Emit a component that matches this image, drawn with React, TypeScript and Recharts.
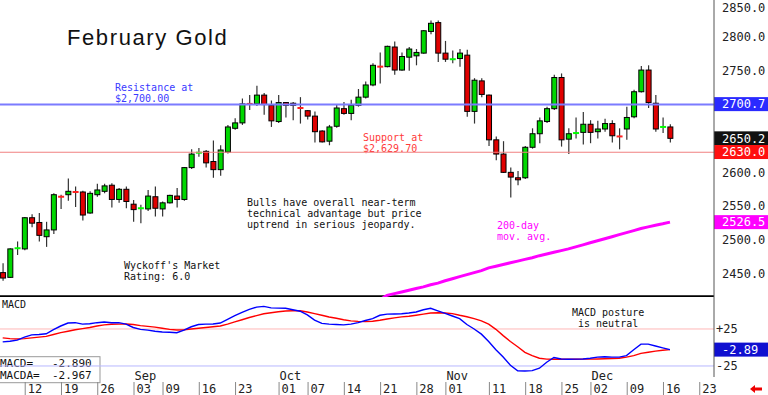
import React from "react";
import {
  Bar,
  ComposedChart,
  Customized,
  Line,
  ReferenceLine,
  XAxis,
  YAxis,
} from "recharts";

// daily candles, Aug 06 .. Dec 16 (trading days)
const open = [
  2452, 2445, 2487, 2487, 2533, 2526, 2505, 2515, 2565, 2567, 2572, 2571, 2540, 2567, 2572, 2581,
  2560, 2575, 2553, 2546, 2546, 2564, 2546, 2555, 2565, 2560, 2607, 2628, 2631, 2616, 2604, 2630,
  2665, 2673, 2702, 2701, 2714, 2699, 2675, 2703, 2702, 2696, 2691, 2683, 2661, 2646, 2668, 2694,
  2687, 2699, 2711, 2729, 2757, 2756, 2785, 2751, 2770, 2772, 2776, 2808, 2821, 2776, 2766, 2768,
  2773, 2690, 2735, 2714, 2648, 2627, 2600, 2592, 2592, 2637, 2657, 2675, 2694, 2740, 2649, 2657,
  2659, 2671, 2660, 2664, 2672, 2654, 2664, 2682, 2719, 2751, 2702, 2666, 2667,
];
const high = [
  2466, 2488, 2498, 2534, 2538, 2540, 2527, 2569, 2567, 2591, 2579, 2573, 2572, 2583, 2583, 2584,
  2577, 2579, 2559, 2552, 2574, 2579, 2557, 2567, 2577, 2608, 2634, 2636, 2633, 2647, 2640, 2670,
  2680, 2709, 2714, 2728, 2717, 2706, 2714, 2704, 2704, 2711, 2692, 2690, 2662, 2670, 2701, 2704,
  2707, 2723, 2734, 2761, 2777, 2787, 2793, 2777, 2785, 2782, 2810, 2824, 2824, 2794, 2780, 2782,
  2781, 2739, 2739, 2715, 2653, 2646, 2607, 2602, 2639, 2665, 2681, 2697, 2744, 2746, 2665, 2681,
  2689, 2677, 2676, 2679, 2677, 2665, 2697, 2722, 2757, 2758, 2714, 2681, 2671,
];
const low = [
  2440, 2444, 2478, 2485, 2519, 2498, 2490, 2509, 2546, 2558, 2549, 2529, 2539, 2564, 2569, 2548,
  2555, 2547, 2527, 2525, 2543, 2535, 2535, 2554, 2548, 2558, 2605, 2623, 2607, 2592, 2595, 2628,
  2663, 2670, 2692, 2698, 2685, 2667, 2673, 2681, 2677, 2672, 2678, 2644, 2644, 2640, 2666, 2685,
  2677, 2697, 2709, 2727, 2731, 2755, 2744, 2750, 2750, 2758, 2775, 2804, 2763, 2763, 2761, 2756,
  2682, 2672, 2711, 2639, 2618, 2599, 2563, 2581, 2590, 2635, 2643, 2673, 2692, 2638, 2627, 2650,
  2641, 2643, 2650, 2660, 2644, 2634, 2648, 2680, 2718, 2695, 2660, 2658, 2644,
];
const close = [
  2444, 2487, 2488, 2533, 2525, 2507, 2515, 2567, 2564, 2572, 2571, 2537, 2569, 2574, 2580, 2560,
  2575, 2557, 2545, 2547, 2565, 2547, 2555, 2566, 2560, 2607, 2627, 2629, 2614, 2604, 2633, 2667,
  2673, 2701, 2701, 2714, 2700, 2676, 2703, 2699, 2699, 2695, 2683, 2660, 2645, 2667, 2695, 2687,
  2699, 2711, 2729, 2758, 2756, 2786, 2751, 2771, 2782, 2777, 2809, 2820, 2776, 2767, 2767, 2776,
  2690, 2736, 2715, 2648, 2627, 2600, 2593, 2589, 2637, 2657, 2676, 2694, 2740, 2648, 2657, 2658,
  2671, 2659, 2664, 2672, 2654, 2653, 2681, 2719, 2751, 2703, 2664, 2667, 2650.2,
];

// 200-day moving average, from bar 52 (enters the pane from below) to bar 92
const maStart = 52;
const ma200 = [
  2412, 2418.5, 2421, 2423.5, 2426, 2428.5, 2431, 2434, 2436.5, 2440, 2443, 2446, 2449, 2452,
  2455, 2459, 2461.5, 2464, 2466.5, 2469, 2471.5, 2474, 2477, 2479.5, 2482, 2484.5, 2487, 2490,
  2493, 2496, 2499, 2502, 2505, 2508, 2511, 2514, 2517, 2519.5, 2522, 2524, 2526.5,
];

const macd = [
  7.5, 8.5, 10, 14, 17, 17.5, 18.5, 24, 29, 33, 33.5, 31.5, 32, 33.5, 34.5, 33.5, 33.5, 31.5, 27,
  24.5, 23.5, 22, 21, 20.5, 20, 23.5, 28, 31, 31.5, 31.8, 33, 38, 43, 47.5, 51.5, 54.5, 55.5, 53.5,
  53.2, 53, 51, 49, 44, 37, 32.5, 31.5, 31, 30.5, 31.5, 33.5, 36.5, 39, 43.5, 45, 45.3, 45.5, 46.5,
  48, 51, 53, 49.5, 46, 42.5, 39, 31, 25, 18, 8, -3, -13, -24, -31.5, -31.8, -31.3, -28, -20, -13.5,
  -15.5, -16, -15.8, -15.5, -14.5, -13, -12.5, -13, -13, -11, -3, 4.5, 4.5, 2, -0.5, -2.89,
];
const macdSignal = [
  13, 12, 11.5, 12, 13, 14, 15, 17.5, 20, 22, 24, 25.5, 27, 29, 30.5, 31.3, 31.6, 31.8, 31, 29.5,
  28.5, 27.5, 26, 24.5, 23.6, 24, 25, 26, 27, 28, 29, 31.5, 34.5, 37.5, 40.5, 43, 45.5, 47, 48.3,
  49.3, 49.6, 49.7, 48, 45.8, 43.5, 41.2, 39.5, 37.5, 36, 35.2, 34.9, 35.5, 36.8, 38.5, 40, 41.3,
  42.2, 43.5, 45, 46.5, 47, 46.5, 45.8, 43.5, 41.5, 39, 36, 31.5, 24.5, 16, 8, 1, -6.5, -11, -14.5,
  -15.8, -16, -16, -16, -16, -15.8, -15.7, -15.6, -15.3, -15, -14.6, -13, -11, -8, -6.5, -5, -3.8,
  -2.967,
];

const dayTicks = [4, 9, 14, 19, 23, 28, 33, 39, 43, 48, 53, 58, 62, 68, 73, 78, 82, 87, 92, 97];
const dayLabels = [
  "12", "19", "26", "03", "09", "16", "23", "01", "07", "14",
  "21", "28", "01", "11", "18", "25", "02", "09", "16", "23",
];
const monthTicks = [19, 39, 62, 82];
const monthLabels = ["Sep", "Oct", "Nov", "Dec"];
const priceTicks = [2450, 2500, 2550, 2600, 2750, 2800, 2850];
const macdTicks = [25, -25];

const priceData = open.map((o, i) => ({
  i,
  range: [low[i], high[i]],
  o,
  h: high[i],
  l: low[i],
  c: close[i],
  ma: i >= maStart && i - maStart < ma200.length ? ma200[i - maStart] : undefined,
}));
const macdData = macd.map((m, i) => ({ i, macd: m, sig: macdSignal[i] }));

const X_DOMAIN: [number, number] = [-0.372, 98.07];
const MONO = "DejaVu Sans Mono";

const Candle = (props: any) => {
  const { x, y, width, height, payload } = props;
  if (x == null || !payload) return null;
  const { o, h, l, c } = payload;
  const top = Math.min(y, y + height);
  const span = Math.abs(height);
  const py = (v: number) => top + ((h - v) / (h - l)) * span;
  const cx = x + width / 2;
  const up = c >= o;
  const yo = py(o);
  const yc = py(c);
  if (Math.abs(o - c) <= 1.2) {
    return (
      <g>
        <line x1={cx} x2={cx} y1={top} y2={top + span} stroke="#333" strokeWidth={1.2} />
        <line x1={cx - 3} x2={cx + 3} y1={yc} y2={yc} stroke={up ? "#00ff00" : "#ff2020"} strokeWidth={2} />
      </g>
    );
  }
  return (
    <g>
      <line x1={cx} x2={cx} y1={top} y2={top + span} stroke="#333" strokeWidth={1.2} />
      <rect
        x={cx - 2.5}
        y={Math.min(yo, yc)}
        width={5}
        height={Math.abs(yo - yc)}
        fill={up ? "#00d800" : "#e00000"}
        stroke="#000"
        strokeWidth={1}
      />
    </g>
  );
};

const ValueBox = (props: any) => {
  const { viewBox, text, fill } = props;
  if (!viewBox) return null;
  const x0 = viewBox.x + viewBox.width;
  return (
    <g>
      <rect x={x0} y={viewBox.y - 7} width={54} height={14} fill={fill} />
      <text x={x0 + 8} y={viewBox.y} dy="0.36em" fill="#fff" fontSize={12} fontFamily={MONO}>
        {text}
      </text>
    </g>
  );
};

const DateTick = (props: any) => {
  const { x, y, payload } = props;
  const k = dayTicks.indexOf(payload.value);
  const m = monthTicks.indexOf(payload.value);
  return (
    <g>
      <line x1={x - 6.5} x2={x - 6.5} y1={y + 5} y2={y + 18} stroke="#888" />
      <text x={x - 4} y={y + 16} fontSize={12} fontFamily={MONO} fill="#222">
        {dayLabels[k]}
      </text>
      {m >= 0 && (
        <text x={x - 6} y={y + 3} fontSize={12} fontFamily={MONO} fill="#222">
          {monthLabels[m]}
        </text>
      )}
    </g>
  );
};

const MacdTick = (props: any) => {
  const { x, y, payload } = props;
  return (
    <text x={x} y={y} dy="0.36em" fontSize={12} fontFamily={MONO} fill="#222">
      {payload.value > 0 ? "+25" : "-25"}
    </text>
  );
};

const small = { fontSize: 10, fontFamily: MONO };

const PriceNotes = () => (
  <g>
    <text x={67} y={45} fontSize={22} letterSpacing={1.6} fontFamily="Liberation Sans" fill="#111">
      February Gold
    </text>
    <text {...small} fill="#3a3aff">
      <tspan x={115} y={90.5}>Resistance at</tspan>
      <tspan x={115} y={101.5}>$2,700.00</tspan>
    </text>
    <text {...small} fill="#ff3a3a">
      <tspan x={363} y={140.5}>Support at</tspan>
      <tspan x={363} y={151.5}>$2,629.70</tspan>
    </text>
    <text {...small} fill="#111">
      <tspan x={247} y={205.5}>Bulls have overall near-term</tspan>
      <tspan x={247} y={216.5}>technical advantage but price</tspan>
      <tspan x={247} y={227.5}>uptrend in serious jeopardy.</tspan>
    </text>
    <text {...small} fill="#111">
      <tspan x={124} y={269}>Wyckoff's Market</tspan>
      <tspan x={124} y={280}>Rating: 6.0</tspan>
    </text>
    <text {...small} fill="#ff00ff">
      <tspan x={497} y={228.5}>200-day</tspan>
      <tspan x={497} y={239.5}>mov. avg.</tspan>
    </text>
  </g>
);

const MacdNotes = () => (
  <g>
    <text {...small} x={2} y={11} fill="#111">MACD</text>
    <text {...small} fill="#111">
      <tspan x={572} y={18.5}>MACD posture</tspan>
      <tspan x={572} y={29.5}> is neutral</tspan>
    </text>
    <rect x={-1} y={59.7} width={101} height={26} fill="#fff" stroke="#999" />
    <text fontSize={11} fontFamily={MONO} fill="#111">
      <tspan x={0} y={70}>MACD=</tspan>
      <tspan x={52} y={70}>-2.890</tspan>
      <tspan x={0} y={81.5}>MACDA=</tspan>
      <tspan x={52} y={81.5}>-2.967</tspan>
    </text>
    <polygon
      points="750,92 755,88 755,90.5 762,90.5 762,93.5 755,93.5 755,96"
      fill="#ee0000"
    />
  </g>
);

export default function App() {
  return (
    <div
      style={{
        position: "absolute",
        left: 0,
        top: 0,
        width: 768,
        height: 395,
        background: "#fff",
        overflow: "hidden",
      }}
    >
      <ComposedChart
        width={768}
        height={297}
        data={priceData}
        margin={{ top: 0, right: 0, bottom: 0, left: 0 }}
      >
        <XAxis dataKey="i" type="number" domain={X_DOMAIN} allowDataOverflow hide />
        <YAxis
          orientation="right"
          width={54}
          type="number"
          domain={[2416, 2854.4]}
          allowDataOverflow
          ticks={priceTicks}
          tickFormatter={(v: number) => v.toFixed(1)}
          tick={{ fontSize: 12, fontFamily: MONO, fill: "#222" }}
          tickSize={0}
          tickMargin={8}
          axisLine={{ stroke: "#555" }}
        />
        <ReferenceLine y={2700} stroke="#7b7bff" strokeWidth={2} />
        <ReferenceLine y={2629.7} stroke="#f08080" strokeWidth={1.2} />
        <ReferenceLine y={2417} stroke="#000" strokeWidth={2} />
        <Bar
          dataKey="range"
          barSize={6}
          shape={<Candle />}
          isAnimationActive={false}
        />
        <Line
          dataKey="ma"
          type="linear"
          stroke="#ff00ff"
          strokeWidth={3}
          dot={false}
          activeDot={false}
          isAnimationActive={false}
        />
        <ReferenceLine y={2700.7} stroke="none" label={<ValueBox text="2700.7" fill="#2a2aff" />} />
        <ReferenceLine y={2650.2} stroke="none" label={<ValueBox text="2650.2" fill="#111" />} />
        <ReferenceLine y={2630} stroke="none" label={<ValueBox text="2630.0" fill="#ff1010" />} />
        <ReferenceLine y={2526.5} stroke="none" label={<ValueBox text="2526.5" fill="#ff00ff" />} />
        <Customized component={PriceNotes} />
      </ComposedChart>
      <div style={{ position: "absolute", left: 0, top: 297 }}>
        <ComposedChart
          width={768}
          height={98}
          data={macdData}
          margin={{ top: 0, right: 0, bottom: 0, left: 0 }}
        >
          <XAxis
            dataKey="i"
            type="number"
            domain={X_DOMAIN}
            allowDataOverflow
            ticks={dayTicks}
            interval={0}
            height={18}
            axisLine={false}
            tickLine={false}
            tickSize={0}
            tickMargin={0}
            tick={<DateTick />}
          />
          <YAxis
            orientation="right"
            width={54}
            type="number"
            domain={[-39.9, 68.2]}
            allowDataOverflow
            ticks={macdTicks}
            tick={<MacdTick />}
            tickSize={0}
            tickMargin={2}
            axisLine={{ stroke: "#555" }}
          />
          <ReferenceLine y={25} stroke="#ffb8b8" />
          <ReferenceLine y={-25} stroke="#b8b8ff" />
          <Line dataKey="sig" type="linear" stroke="#ff0000" strokeWidth={1.4} dot={false} activeDot={false} isAnimationActive={false} />
          <Line dataKey="macd" type="linear" stroke="#0000ff" strokeWidth={1.4} dot={false} activeDot={false} isAnimationActive={false} />
          <ReferenceLine y={-2.89} stroke="none" label={<ValueBox text=" -2.89" fill="#1010d0" />} />
          <Customized component={MacdNotes} />
        </ComposedChart>
      </div>
    </div>
  );
}
